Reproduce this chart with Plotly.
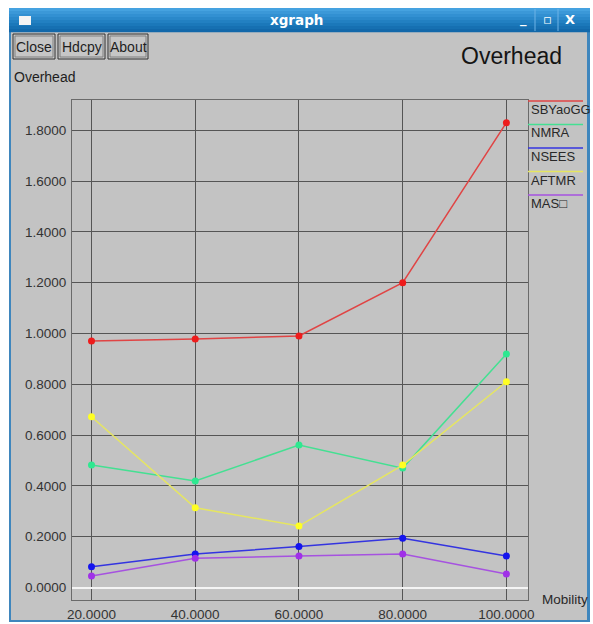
import plotly.graph_objects as go

mobility = [20, 40, 60, 80, 100]
series_names = ["SBYaoGG", "NMRA", "NSEES", "AFTMR", "MAS\u25a1"]
sbyaogg = [0.970, 0.978, 0.990, 1.200, 1.830]
nmra = [0.482, 0.419, 0.561, 0.470, 0.919]
nsees = [0.082, 0.132, 0.161, 0.194, 0.124]
aftmr = [0.672, 0.314, 0.242, 0.482, 0.810]
mas = [0.045, 0.115, 0.124, 0.132, 0.053]
series_values = [sbyaogg, nmra, nsees, aftmr, mas]
line_colors = ["#e04444", "#44e092", "#3434e0", "#e6e660", "#a652e0"]
marker_colors = ["#ee1c1c", "#2ee890", "#1414ee", "#ffff22", "#a030e8"]
y_ticks = [0.0, 0.2, 0.4, 0.6, 0.8, 1.0, 1.2, 1.4, 1.6, 1.8]

W, H = 593, 624
L, R, T, B = 72, 528, 100, 600
PW, PH = R - L, B - T


def px(x):
    return (x - L) / PW


def py(y):
    return (B - y) / PH


FONT = "Liberation Sans, Arial, sans-serif"
fig = go.Figure()

for name, vals, lc, mc in zip(series_names, series_values, line_colors, marker_colors):
    fig.add_trace(go.Scatter(
        x=mobility, y=vals, name=name, mode="lines+markers",
        line=dict(color=lc, width=1.5),
        marker=dict(color=mc, size=7, symbol="circle"),
        showlegend=False,
    ))

shapes = []
# window frame and gray area
shapes.append(dict(type="rect", xref="paper", yref="paper", x0=px(9), x1=px(590), y0=py(8), y1=py(622),
                   fillcolor="#3f86bd", line=dict(width=0), layer="below"))
shapes.append(dict(type="rect", xref="paper", yref="paper", x0=px(11), x1=px(587), y0=py(32), y1=py(620),
                   fillcolor="#c3c3c3", line=dict(width=0), layer="below"))
# title bar gradient
bands = ["#45a2e0", "#3b98d8", "#3290d2", "#2a88ca", "#2280c2", "#1b78ba", "#1670b2", "#1268aa"]
for i, c in enumerate(bands):
    y0 = 8 + i * 3
    shapes.append(dict(type="rect", xref="paper", yref="paper", x0=px(9), x1=px(590), y0=py(y0), y1=py(y0 + 3.2),
                       fillcolor=c, line=dict(width=0), layer="below"))
# window icon
shapes.append(dict(type="rect", xref="paper", yref="paper", x0=px(19), x1=px(31), y0=py(16), y1=py(25),
                   fillcolor="#f4f4f4", line=dict(width=0), layer="below"))
# title bar separators
for sx in [535, 558]:
    shapes.append(dict(type="line", xref="paper", yref="paper", x0=px(sx), x1=px(sx), y0=py(9), y1=py(31),
                       line=dict(color="#6fb3e6", width=1), layer="below"))
# buttons
buttons = [("Close", 13, 55), ("Hdcpy", 58, 105), ("About", 108, 148)]
for label, bx0, bx1 in buttons:
    shapes.append(dict(type="rect", xref="paper", yref="paper", x0=px(bx0), x1=px(bx1), y0=py(34), y1=py(59),
                       fillcolor="#c6c6c6", line=dict(color="#303030", width=1), layer="below"))
    shapes.append(dict(type="rect", xref="paper", yref="paper", x0=px(bx0 + 2), x1=px(bx1 - 2), y0=py(36), y1=py(57),
                       fillcolor="rgba(0,0,0,0)", line=dict(color="#808080", width=1), layer="below"))
# legend swatches
leg_line_y = [101, 124.5, 148, 171.5, 195]
for ly, lc in zip(leg_line_y, line_colors):
    shapes.append(dict(type="line", xref="paper", yref="paper", x0=px(528), x1=px(583), y0=py(ly), y1=py(ly),
                       line=dict(color=lc, width=1.5)))

annotations = []
annotations.append(dict(text="<b>xgraph</b>", x=px(296), y=py(20), xref="paper", yref="paper", showarrow=False,
                        font=dict(family="DejaVu Sans, sans-serif", size=13.5, color="white"), xanchor="center", yanchor="middle"))
for t, tx in [("_", 523), ("\u25ab", 547), ("X", 570)]:
    annotations.append(dict(text="<b>%s</b>" % t, x=px(tx), y=py(19), xref="paper", yref="paper", showarrow=False,
                            font=dict(family="DejaVu Sans, sans-serif", size=13, color="white"), xanchor="center", yanchor="middle"))
for label, bx0, bx1 in buttons:
    annotations.append(dict(text=label, x=px((bx0 + bx1) / 2), y=py(47), xref="paper", yref="paper", showarrow=False,
                            font=dict(family=FONT, size=14, color="#1e1e1e"), xanchor="center", yanchor="middle"))
annotations.append(dict(text="Overhead", x=px(564), y=py(56), xref="paper", yref="paper", showarrow=False,
                        font=dict(family=FONT, size=23, color="#141414"), xanchor="right", yanchor="middle"))
annotations.append(dict(text="Overhead", x=px(12), y=py(77), xref="paper", yref="paper", showarrow=False,
                        font=dict(family=FONT, size=14, color="#1e1e1e"), xanchor="left", yanchor="middle"))
annotations.append(dict(text="Mobility", x=px(590), y=py(599), xref="paper", yref="paper", showarrow=False,
                        font=dict(family=FONT, size=13.5, color="#282828"), xanchor="right", yanchor="middle"))
for ly, name in zip(leg_line_y, series_names):
    annotations.append(dict(text=name, x=px(529), y=py(ly + 8.5), xref="paper", yref="paper", showarrow=False,
                            font=dict(family=FONT, size=13, color="#282828"), xanchor="left", yanchor="middle"))

fig.update_layout(
    width=W, height=H,
    margin=dict(l=L, r=W - R, t=T, b=H - B, pad=0, autoexpand=False),
    paper_bgcolor="white", plot_bgcolor="#c3c3c3",
    shapes=shapes, annotations=annotations,
    xaxis=dict(range=[16.24, 104.16], tickvals=mobility, tickformat=".4f", automargin=False,
               showgrid=True, gridcolor="#555555", gridwidth=1, zeroline=False,
               showline=True, linecolor="#6a6a6a", linewidth=1, mirror=True, ticks="",
               tickfont=dict(family=FONT, size=13.5, color="#333333"), ticklabelstandoff=2),
    yaxis=dict(range=[-0.0492, 1.9193], tickvals=y_ticks, tickformat=".4f", automargin=False,
               showgrid=True, gridcolor="#555555", gridwidth=1,
               zeroline=True, zerolinecolor="#f4f4f4", zerolinewidth=2,
               showline=True, linecolor="#6a6a6a", linewidth=1, mirror=True, ticks="",
               tickfont=dict(family=FONT, size=13.5, color="#333333"), ticklabelstandoff=2),
)

fig.write_html("out.html")
